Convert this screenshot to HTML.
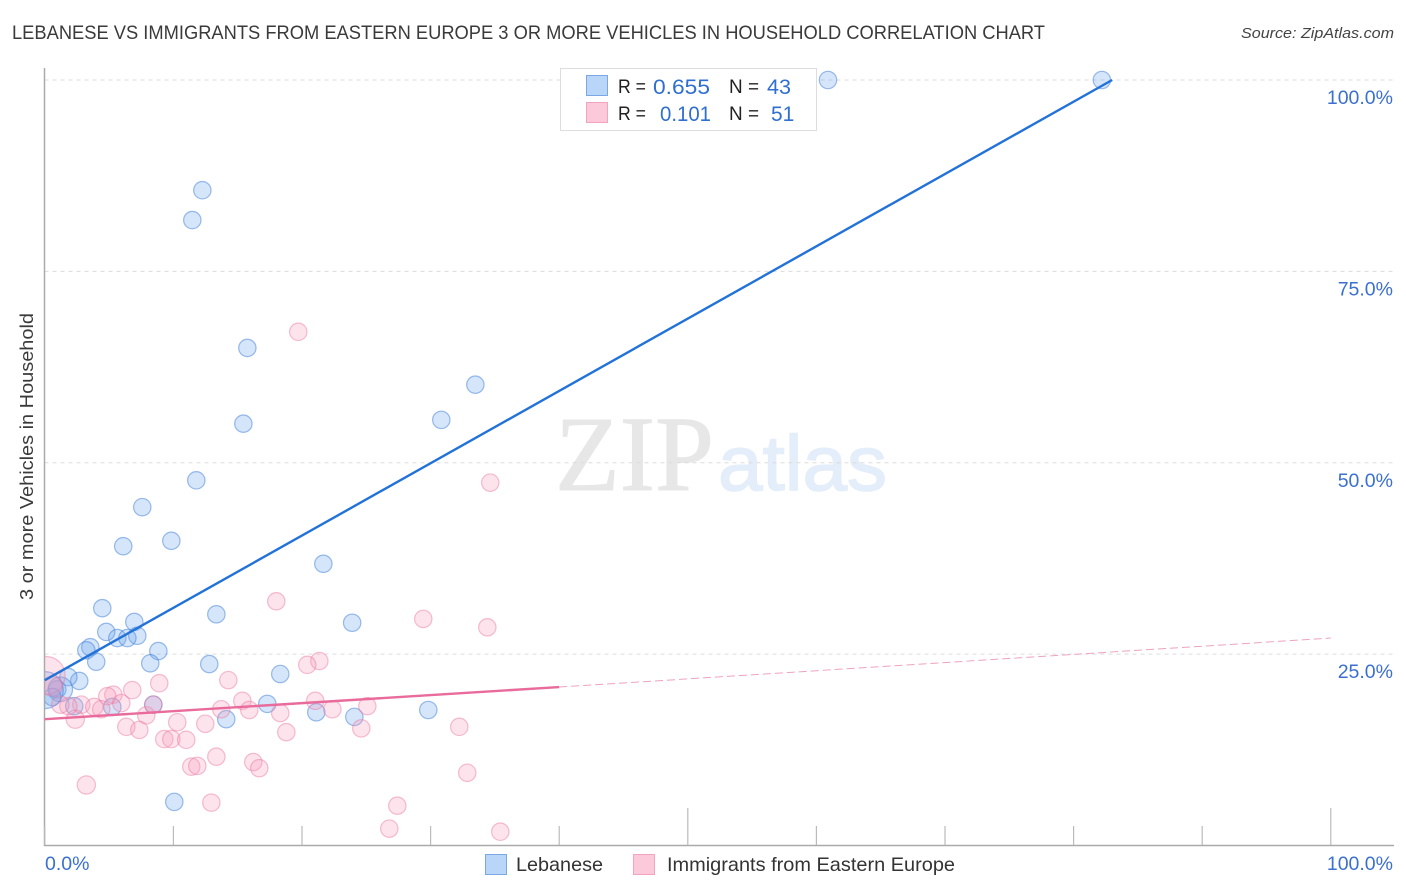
<!DOCTYPE html>
<html lang="en">
<head>
<meta charset="utf-8">
<title>Lebanese vs Immigrants from Eastern Europe Correlation Chart</title>
<style>
html,body{margin:0;padding:0;background:#fff;}
svg{display:block;font-family:"Liberation Sans",sans-serif;}
</style>
</head>
<body>
<svg id="chart" xmlns="http://www.w3.org/2000/svg" width="1406" height="892" viewBox="0 0 1406 892">
  <defs>
    <clipPath id="plot-clip"><rect x="45" y="60" width="1349" height="785"></rect></clipPath>
  </defs>
  <text x="12" y="39" font-size="19" fill="#3a3a3a" textLength="1033" lengthAdjust="spacingAndGlyphs">LEBANESE VS IMMIGRANTS FROM EASTERN EUROPE 3 OR MORE VEHICLES IN HOUSEHOLD CORRELATION CHART</text>
  <text x="1241" y="38" font-size="15" font-style="italic" fill="#444" textLength="153" lengthAdjust="spacingAndGlyphs">Source: ZipAtlas.com</text>
  <g>
    <text x="555" y="490" font-family="'Liberation Serif',serif" font-size="107" fill="#e7e7e7" stroke="#e7e7e7" stroke-width="1" textLength="159" lengthAdjust="spacingAndGlyphs">ZIP</text>
    <text x="718" y="490" font-size="78" fill="#e4edfa" stroke="#e4edfa" stroke-width="1.5" textLength="169" lengthAdjust="spacingAndGlyphs">atlas</text>
  </g>
  <g id="grid"></g>
  <g id="axes"></g>
  <g id="points" clip-path="url(#plot-clip)"></g>
  <g id="trends"></g>
  <g id="labels"></g>
  <text transform="translate(33,600) rotate(-90)" font-size="18.5" fill="#3a3a3a" textLength="287" lengthAdjust="spacingAndGlyphs">3 or more Vehicles in Household</text>

  <g>
    <rect x="560.5" y="68.5" width="256" height="62" fill="#fff" stroke="#ddd"></rect>
    <rect x="586.5" y="75.5" width="21" height="20" fill="#b9d5f7" stroke="#79a8e4"></rect>
    <rect x="586.5" y="102.5" width="21" height="20" fill="#fbc9d9" stroke="#f3a3bd"></rect>
    <g font-size="19.5" fill="#222">
      <text x="618" y="93" textLength="28" lengthAdjust="spacingAndGlyphs">R =</text>
      <text x="729" y="93" textLength="30" lengthAdjust="spacingAndGlyphs">N =</text>
      <text x="618" y="120" textLength="28" lengthAdjust="spacingAndGlyphs">R =</text>
      <text x="729" y="120" textLength="30" lengthAdjust="spacingAndGlyphs">N =</text>
    </g>
    <g font-size="21" fill="#2f6fd0">
      <text x="653" y="94" textLength="57" lengthAdjust="spacingAndGlyphs">0.655</text>
      <text x="767" y="94" textLength="24" lengthAdjust="spacingAndGlyphs">43</text>
      <text x="660" y="121" textLength="51" lengthAdjust="spacingAndGlyphs">0.101</text>
      <text x="771" y="121" font-size="21">51</text>
    </g>
  </g>

  <g>
    <rect x="485.5" y="854.5" width="21" height="20" fill="#b9d5f7" stroke="#79a8e4"></rect>
    <text x="516" y="871" font-size="19.5" fill="#333" textLength="87" lengthAdjust="spacingAndGlyphs">Lebanese</text>
    <rect x="633.5" y="854.5" width="21" height="20" fill="#fbc9d9" stroke="#f3a3bd"></rect>
    <text x="667" y="871" font-size="19.5" fill="#333" textLength="288" lengthAdjust="spacingAndGlyphs">Immigrants from Eastern Europe</text>
  </g>
</svg>
<script>
const yTicks = [25, 50, 75, 100];
const yTickLabels = ["25.0%", "50.0%", "75.0%", "100.0%"];
const xTicks = [0, 10, 20, 30, 40, 50, 60, 70, 80, 90, 100];
const xEndLabels = ["0.0%", "100.0%"];

const blueX = [82.2, 60.9, 12.25, 11.47, 15.75, 15.44, 33.48, 30.83, 11.78, 7.58, 6.1, 9.84, 21.66, 4.47, 13.34, 23.9, 6.96, 7.19, 4.78, 5.64, 6.42, 3.54, 3.23, 8.83, 4.0, 8.2, 12.79, 18.31, 2.68, 1.83, 17.3, 29.82, 21.11, 24.07, 14.11, 8.44, 5.25, 2.29, 10.07, 0.97, 1.2, 0.58, 0.0];
const blueY = [100, 100, 85.6, 81.7, 65.0, 55.1, 60.2, 55.6, 47.7, 44.2, 39.1, 39.8, 36.8, 31.0, 30.2, 29.1, 29.2, 27.4, 27.9, 27.1, 27.1, 25.9, 25.5, 25.4, 24.0, 23.8, 23.7, 22.4, 21.5, 22.0, 18.5, 17.7, 17.4, 16.8, 16.5, 18.4, 18.1, 18.2, 5.7, 20.4, 20.4, 19.4, 20.3];
const blueWeight = [1, 1, 1, 1, 1, 1, 1, 1, 1, 1, 1, 1, 1, 1, 1, 1, 1, 1, 1, 1, 1, 1, 1, 1, 1, 1, 1, 1, 1, 1, 1, 1, 1, 1, 1, 1, 1, 1, 1, 1, 2, 1, 4.5];

const pinkX = [19.71, 34.64, 18.0, 29.43, 34.41, 21.35, 20.41, 14.27, 8.9, 6.8, 5.33, 4.86, 5.95, 2.84, 3.85, 4.39, 2.37, 1.83, 1.21, 7.89, 6.34, 7.35, 10.3, 12.48, 13.72, 15.36, 15.9, 18.31, 18.78, 21.03, 22.36, 9.29, 9.84, 11.0, 13.34, 11.39, 11.86, 16.21, 16.68, 3.23, 12.95, 8.44, 25.08, 24.61, 32.23, 32.85, 27.41, 26.79, 35.42, 0.1, 0.58];
const pinkY = [67.1, 47.4, 31.9, 29.6, 28.5, 24.1, 23.6, 21.6, 21.2, 20.3, 19.7, 19.5, 18.6, 18.4, 18.1, 17.8, 16.5, 18.2, 18.4, 17.0, 15.5, 15.1, 16.1, 15.9, 17.8, 18.9, 17.7, 17.3, 14.8, 18.9, 17.8, 13.9, 13.9, 13.8, 11.6, 10.3, 10.4, 10.9, 10.1, 7.9, 5.6, 18.4, 18.2, 15.3, 15.5, 9.5, 5.2, 2.2, 1.8, 22.2, 20.8];
const pinkWeight = [1, 1, 1, 1, 1, 1, 1, 1, 1, 1, 1, 1, 1, 1, 1, 1, 1.1, 1, 1, 1, 1, 1, 1, 1, 1, 1, 1, 1, 1, 1, 1, 1, 1, 1, 1, 1, 1, 1, 1, 1.1, 1, 1, 1, 1, 1, 1, 1, 1, 1, 4.8, 1.3];

const blueTrendX = [0, 83];
const blueTrendY = [21.6, 100];
const pinkTrendX = [0, 40];
const pinkTrendY = [16.5, 20.7];
const pinkTrendExtX = [40, 100];
const pinkTrendExtY = [20.7, 27.1];

const NS = "http://www.w3.org/2000/svg";
function xScale(v) { return 44.8 + v * 12.86; }
function yScale(v) { return 845.5 - v * 7.655; }
function rScale(w) { return 8.7 * Math.sqrt(w); }
function make(parent, tag, attrs, text) {
  const el = document.createElementNS(NS, tag);
  for (const k in attrs) el.setAttribute(k, attrs[k]);
  if (text !== undefined) el.textContent = text;
  parent.appendChild(el);
  return el;
}
const gridG = document.getElementById("grid");
const axesG = document.getElementById("axes");
const pointsG = document.getElementById("points");
const trendsG = document.getElementById("trends");
const labelsG = document.getElementById("labels");

yTicks.forEach(function (t, i) {
  const line = make(gridG, "line", { x1: 44.5, x2: 1394, y1: yScale(t), y2: yScale(t), stroke: "#dcdcdc", "stroke-width": 1, "stroke-dasharray": "4 4" });
  
  
  const lbl = make(labelsG, "text", { x: 1393, y: yScale(t) + 24, "text-anchor": "end", "font-size": 19.5, fill: "#3b70d0" }, yTickLabels[i]);
  
  
});

const yAxis = make(axesG, "line", { x1: 44.5, x2: 44.5, y1: 68, y2: 846, stroke: "#aaa", "stroke-width": 1.5 });


const xAxis = make(axesG, "line", { x1: 44, x2: 1394, y1: 845.5, y2: 845.5, stroke: "#aaa", "stroke-width": 1.5 });


xTicks.forEach(function (t) {
  const major = t === 50 || t === 100;
  const tick = make(axesG, "line", { x1: xScale(t), x2: xScale(t), y1: major ? 808 : 826, y2: 845, stroke: "#bbb", "stroke-width": 1.2 });
  
  
});
const x0 = make(labelsG, "text", { x: 45, y: 870, "font-size": 19.5, fill: "#3b70d0" }, xEndLabels[0]);


const x1 = make(labelsG, "text", { x: 1393, y: 870, "text-anchor": "end", "font-size": 19.5, fill: "#3b70d0" }, xEndLabels[1]);



blueX.forEach(function (v, i) {
  const c = make(pointsG, "circle", { cx: xScale(v), cy: yScale(blueY[i]), r: rScale(blueWeight[i]), fill: "rgba(104,163,238,0.28)", stroke: "rgba(62,125,215,0.5)", "stroke-width": 1.2 });
  
  
});
pinkX.forEach(function (v, i) {
  const c = make(pointsG, "circle", { cx: xScale(v), cy: yScale(pinkY[i]), r: rScale(pinkWeight[i]), fill: "rgba(247,155,185,0.28)", stroke: "rgba(232,115,155,0.45)", "stroke-width": 1.2 });
  
  
});

const blueLine = make(trendsG, "line", { x1: xScale(blueTrendX[0]), y1: yScale(blueTrendY[0]), x2: xScale(blueTrendX[1]), y2: yScale(blueTrendY[1]), stroke: "#2272d8", "stroke-width": 2.4 });


const pinkLine = make(trendsG, "line", { x1: xScale(pinkTrendX[0]), y1: yScale(pinkTrendY[0]), x2: xScale(pinkTrendX[1]), y2: yScale(pinkTrendY[1]), stroke: "#e96b9b", "stroke-width": 2.4 });


const pinkExt = make(trendsG, "line", { x1: xScale(pinkTrendExtX[0]), y1: yScale(pinkTrendExtY[0]), x2: xScale(pinkTrendExtX[1]), y2: yScale(pinkTrendExtY[1]), stroke: "#eda3bf", "stroke-width": 1, "stroke-dasharray": "8 4" });


</script>
</body>
</html>
